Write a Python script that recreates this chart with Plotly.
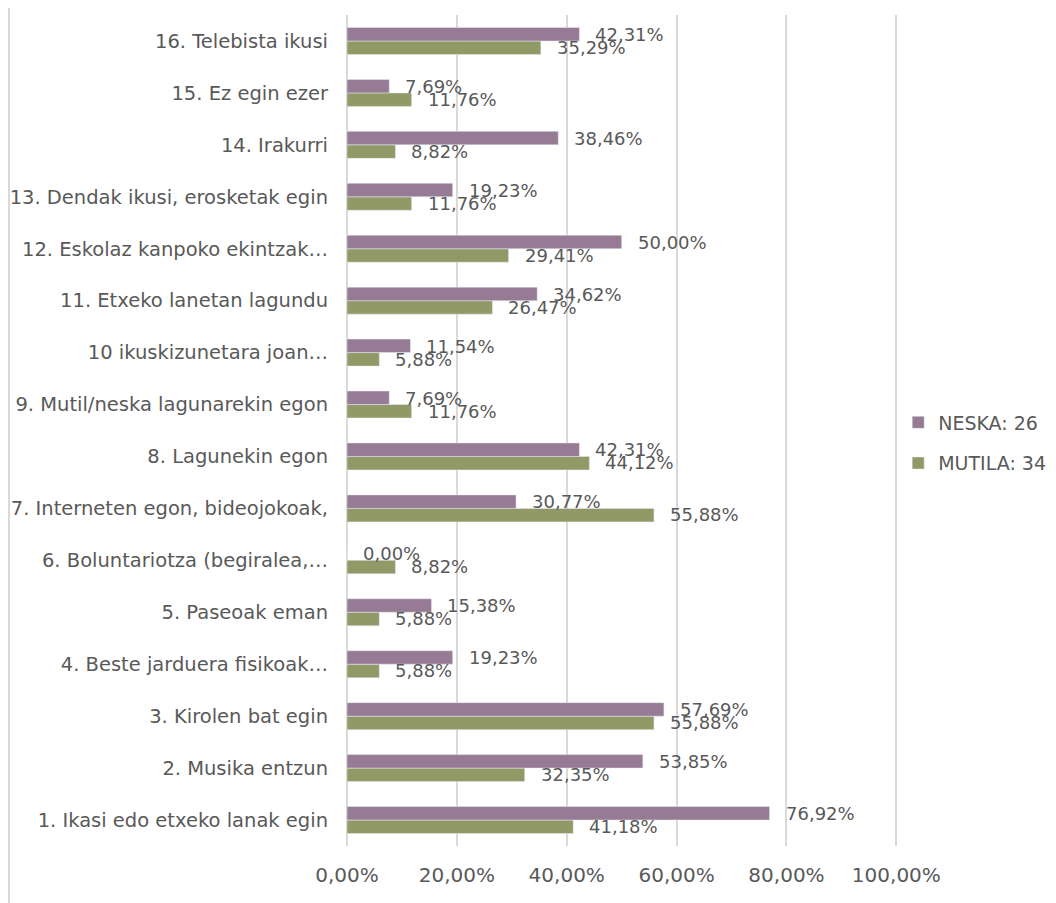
import plotly.graph_objects as go

categories = [
    "1. Ikasi edo etxeko lanak egin",
    "2. Musika entzun",
    "3. Kirolen bat egin",
    "4. Beste jarduera fisikoak…",
    "5. Paseoak eman",
    "6. Boluntariotza (begiralea,…",
    "7. Interneten egon, bideojokoak,",
    "8. Lagunekin egon",
    "9. Mutil/neska lagunarekin egon",
    "10 ikuskizunetara joan…",
    "11. Etxeko lanetan lagundu",
    "12. Eskolaz kanpoko ekintzak…",
    "13. Dendak ikusi, erosketak egin",
    "14. Irakurri",
    "15. Ez egin ezer",
    "16. Telebista ikusi",
]
neska = [0.7692, 0.5385, 0.5769, 0.1923, 0.1538, 0.0000, 0.3077, 0.4231,
         0.0769, 0.1154, 0.3462, 0.5000, 0.1923, 0.3846, 0.0769, 0.4231]
mutila = [0.4118, 0.3235, 0.5588, 0.0588, 0.0588, 0.0882, 0.5588, 0.4412,
          0.1176, 0.0588, 0.2647, 0.2941, 0.1176, 0.0882, 0.1176, 0.3529]
series_names = ["NESKA: 26", "MUTILA: 34"]
tick_vals = [0, 0.2, 0.4, 0.6, 0.8, 1.0]

PURPLE = "#977B95"
GREEN = "#919A66"
TXT = "#595959"
FONT = "DejaVu Sans"


def fmt(v):
    return f"{v*100:.2f}".replace(".", ",") + "%"


fig = go.Figure()
fig.add_trace(go.Bar(y=categories, x=mutila, orientation="h", name=series_names[1],
                     marker=dict(color=GREEN), legendgroup="m", legendrank=2))
fig.add_trace(go.Bar(y=categories, x=neska, orientation="h", name=series_names[0],
                     marker=dict(color=PURPLE), legendgroup="n", legendrank=1))

ann = []
for c, v in zip(categories, neska):
    ann.append(dict(x=v, y=c, text=fmt(v), showarrow=False, xanchor="left",
                    xshift=14, yshift=6.5, font=dict(family=FONT, size=18, color=TXT)))
for c, v in zip(categories, mutila):
    ann.append(dict(x=v, y=c, text=fmt(v), showarrow=False, xanchor="left",
                    xshift=14, yshift=-6.5, font=dict(family=FONT, size=18, color=TXT)))

fig.update_layout(
    width=1056, height=903,
    margin=dict(l=339, r=166, t=7, b=65, autoexpand=False),
    paper_bgcolor="white", plot_bgcolor="white",
    barmode="group", bargap=0.48, bargroupgap=0,
    separators=",.",
    font=dict(family=FONT, size=18, color=TXT),
    annotations=ann,
    legend=dict(traceorder="grouped", xref="container", yref="container",
                x=0.843, y=0.5183, xanchor="left", yanchor="middle",
                font=dict(family=FONT, size=19, color=TXT), tracegroupgap=13,
                bgcolor="rgba(0,0,0,0)"),
    shapes=[dict(type="line", xref="paper", yref="paper", x0=-0.6134, x1=-0.6134,
                 y0=-0.08, y1=1.02, line=dict(color="#d9d9d9", width=2))],
)
fig.update_xaxes(range=[0, 1.003], tickvals=tick_vals, tickformat=".2%",
                 showgrid=True, gridcolor="#d9d9d9", gridwidth=1.5,
                 zeroline=True, zerolinecolor="#d9d9d9", zerolinewidth=1.5,
                 showline=False, ticks="", ticklabelstandoff=15, automargin=False,
                 tickfont=dict(family=FONT, size=20, color=TXT), fixedrange=True)
fig.update_yaxes(type="category", showgrid=False, zeroline=False, showline=False,
                 ticks="", ticklabelstandoff=18, automargin=False,
                 tickfont=dict(family=FONT, size=19.5, color=TXT), fixedrange=True)

fig.write_html("out.html")
